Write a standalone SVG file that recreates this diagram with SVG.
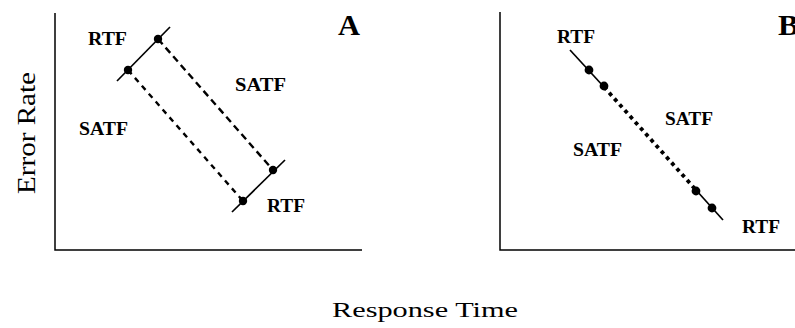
<svg xmlns="http://www.w3.org/2000/svg" width="795" height="328" viewBox="0 0 795 328">
<style>
text{font-family:"Liberation Serif",Tinos,"Times New Roman","Nimbus Roman",FreeSerif,serif;fill:#000}
.lbl{font-weight:bold;font-size:19px}
.big{font-weight:bold;font-size:29px}
.ax{font-size:22px}
.axis{stroke:#000;stroke-width:1.5;fill:none}
.solid{stroke:#000;stroke-width:1.7;fill:none}
.dash{stroke:#000;stroke-width:2.4;stroke-dasharray:7 4.5;fill:none}
.dot{fill:#000}
</style>
<rect width="795" height="328" fill="#fff"/>
<g id="panelA">
  <path class="axis" d="M55,13 V250 H362"/>
  <text class="big" x="338" y="35" textLength="22" lengthAdjust="spacingAndGlyphs">A</text>
  <g id="connectorsA">
    <line class="solid" x1="117" y1="81" x2="170" y2="27"/>
    <line class="solid" x1="232" y1="212" x2="285" y2="160"/>
    <line class="dash" x1="158" y1="39" x2="273" y2="170"/>
    <line class="dash" x1="128" y1="70" x2="243" y2="201" style="stroke-dasharray:5.5 5"/>
  </g>
  <g id="nodesA">
    <circle class="dot" cx="158" cy="39" r="4.2"/>
    <circle class="dot" cx="128" cy="70" r="4.2"/>
    <circle class="dot" cx="273" cy="170" r="4.2"/>
    <circle class="dot" cx="243" cy="201" r="4.2"/>
  </g>
  <text class="lbl" x="88" y="45" textLength="39" lengthAdjust="spacingAndGlyphs">RTF</text>
  <text class="lbl" x="235" y="91" textLength="51" lengthAdjust="spacingAndGlyphs">SATF</text>
  <text class="lbl" x="79" y="135" textLength="49" lengthAdjust="spacingAndGlyphs">SATF</text>
  <text class="lbl" x="267" y="212" textLength="38" lengthAdjust="spacingAndGlyphs">RTF</text>
</g>
<g id="panelB">
  <path class="axis" d="M500,12 V250 H795"/>
  <text class="big" x="778" y="35" textLength="21" lengthAdjust="spacingAndGlyphs">B</text>
  <g id="connectorsB">
    <line class="solid" x1="570" y1="50" x2="604" y2="87"/>
    <line class="solid" x1="696" y1="190" x2="723" y2="220"/>
    <line x1="604" y1="87" x2="696" y2="190" stroke="#000" stroke-width="3.8" stroke-dasharray="3.8 4"/>
  </g>
  <g id="nodesB">
    <circle class="dot" cx="589" cy="70" r="4.4"/>
    <circle class="dot" cx="604" cy="86" r="4.4"/>
    <circle class="dot" cx="696" cy="191" r="4.4"/>
    <circle class="dot" cx="712" cy="208" r="4.4"/>
  </g>
  <text class="lbl" x="557" y="43" textLength="38" lengthAdjust="spacingAndGlyphs">RTF</text>
  <text class="lbl" x="665" y="125" textLength="48" lengthAdjust="spacingAndGlyphs">SATF</text>
  <text class="lbl" x="573" y="156" textLength="49" lengthAdjust="spacingAndGlyphs">SATF</text>
  <text class="lbl" x="742" y="233" textLength="38" lengthAdjust="spacingAndGlyphs">RTF</text>
</g>
<text class="ax" transform="translate(35,133) rotate(-90)" style="font-size:25px" text-anchor="middle" textLength="122" lengthAdjust="spacingAndGlyphs">Error Rate</text>
<text class="ax" x="425" y="317" text-anchor="middle" textLength="186" lengthAdjust="spacingAndGlyphs">Response Time</text>
</svg>
